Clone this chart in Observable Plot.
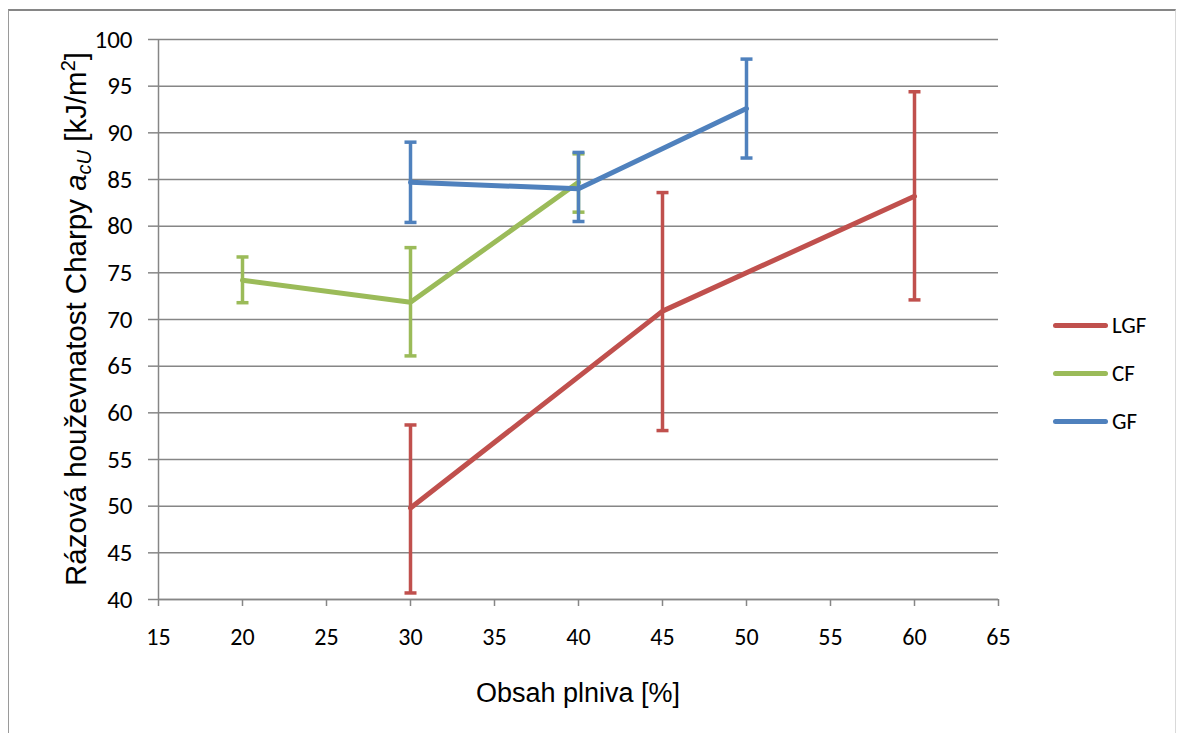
<!DOCTYPE html>
<html>
<head>
<meta charset="utf-8">
<script src="https://cdn.jsdelivr.net/npm/d3@7"></script>
<script src="https://cdn.jsdelivr.net/npm/@observablehq/plot@0.6"></script>
<style>
  html, body { margin: 0; padding: 0; background: #fff; }
  #wrap { position: relative; width: 1178px; height: 733px; overflow: hidden; }
  #frame { position: absolute; left: 8px; top: 9px; width: 1168px; height: 740px;
           border-left: 1.5px solid #9a9a9a; border-top: 2px solid #868686; border-right: 1.5px solid #d9d9d9; box-sizing: border-box; }
  #legend { position: absolute; left: 1053px; top: 301px; font-family: Carlito, "Liberation Sans", Arial, sans-serif; font-size: 23px; }
  .item { display: flex; align-items: center; height: 48px; }
  .sw { width: 55px; height: 5px; border-radius: 3px; margin-right: 4px; }
  svg { position: absolute; left: 0; top: 0; }
</style>
</head>
<body>
<div id="wrap"><div id="frame"></div><div id="legend"></div></div>
<script>
// ---- data ----
const seriesNames = ["LGF", "CF", "GF"];
const seriesColors = ["#C0504D", "#9BBB59", "#4F81BD"];

const lgfX = [30, 45, 60];
const lgfY = [49.8, 70.9, 83.2];
const lgfLo = [40.7, 58.1, 72.1];
const lgfHi = [58.7, 83.6, 94.4];

const cfX = [20, 30, 40];
const cfY = [74.2, 71.85, 84.7];
const cfLo = [71.8, 66.1, 81.5];
const cfHi = [76.7, 77.7, 87.75];

const gfX = [30, 40, 50];
const gfY = [84.7, 84.0, 92.6];
const gfLo = [80.4, 80.5, 87.3];
const gfHi = [89.0, 87.9, 97.9];

const xTicks = [15, 20, 25, 30, 35, 40, 45, 50, 55, 60, 65];
const yTicks = [40, 45, 50, 55, 60, 65, 70, 75, 80, 85, 90, 95, 100];

// ---- build table ----
function rows(name, xs, ys, lo, hi) {
  return xs.map((x, i) => ({series: name, x, y: ys[i], lo: lo[i], hi: hi[i]}));
}
const groups = [
  rows("LGF", lgfX, lgfY, lgfLo, lgfHi),
  rows("CF", cfX, cfY, cfLo, cfHi),
  rows("GF", gfX, gfY, gfLo, gfHi)
];
const colorOf = Object.fromEntries(seriesNames.map((n, i) => [n, seriesColors[i]]));

const cap = { draw(ctx, size) { const w = 6; ctx.moveTo(-w, 0); ctx.lineTo(w, 0); } };

const marks = [
  Plot.gridY(yTicks, {stroke: "#868686", strokeOpacity: 1, strokeWidth: 1.5}),
  Plot.axisY(yTicks, {tickSize: 10, tickPadding: 16, stroke: "#868686", strokeWidth: 1.5, fill: "#000", fontSize: 25, label: null}),
  Plot.axisX(xTicks, {tickSize: 7, tickPadding: 21, stroke: "#868686", strokeWidth: 1.5, fill: "#000", label: null}),
  Plot.ruleX([15], {stroke: "#868686", strokeWidth: 1.5}),
  Plot.ruleY([40], {stroke: "#868686", strokeWidth: 1.5})
];
for (const g of groups) {
  const c = colorOf[g[0].series];
  marks.push(
    Plot.ruleX(g, {x: "x", y1: "lo", y2: "hi", stroke: c, strokeWidth: 3.5}),
    Plot.dot(g, {x: "x", y: "lo", symbol: cap, r: 6, stroke: c, strokeWidth: 3.5, fill: "none"}),
    Plot.dot(g, {x: "x", y: "hi", symbol: cap, r: 6, stroke: c, strokeWidth: 3.5, fill: "none"}),
    Plot.line(g, {x: "x", y: "y", stroke: c, strokeWidth: 5, strokeLinejoin: "round", strokeLinecap: "round"})
  );
}

const chart = Plot.plot({
  width: 1178,
  height: 733,
  marginLeft: 158,
  marginRight: 180,
  marginTop: 39,
  marginBottom: 134,
  style: {fontFamily: 'Carlito, "Liberation Sans", Arial, sans-serif', fontSize: "24px", background: "transparent", overflow: "visible"},
  x: {domain: [15, 65]},
  y: {domain: [40, 100]},
  marks
});
document.getElementById("wrap").appendChild(chart);

// axis titles
const svg = d3.select(chart);
svg.append("text")
  .attr("x", 578).attr("y", 702)
  .attr("text-anchor", "middle")
  .style("font-family", '"Liberation Sans", Arial, sans-serif')
  .style("font-size", "27px")
  .text("Obsah plniva [%]");

const yt = svg.append("text")
  .attr("transform", "translate(86,319) rotate(-90)")
  .attr("text-anchor", "middle")
  .style("font-family", '"Liberation Sans", Arial, sans-serif')
  .style("font-size", "29.5px");
yt.append("tspan").text("Rázová houževnatost Charpy ");
yt.append("tspan").attr("font-style", "italic").text("a");
yt.append("tspan").attr("font-style", "italic").attr("font-size", "20px").attr("dy", "5").text("cU");
yt.append("tspan").attr("dy", "-5").text(" [kJ/m");
yt.append("tspan").attr("font-size", "20px").attr("dy", "-11").text("2");
yt.append("tspan").attr("dy", "11").text("]");

// legend
const lg = d3.select("#legend");
seriesNames.forEach((n, i) => {
  const it = lg.append("div").attr("class", "item");
  it.append("div").attr("class", "sw").style("background", seriesColors[i]);
  it.append("span").text(n);
});
</script>
</body>
</html>
